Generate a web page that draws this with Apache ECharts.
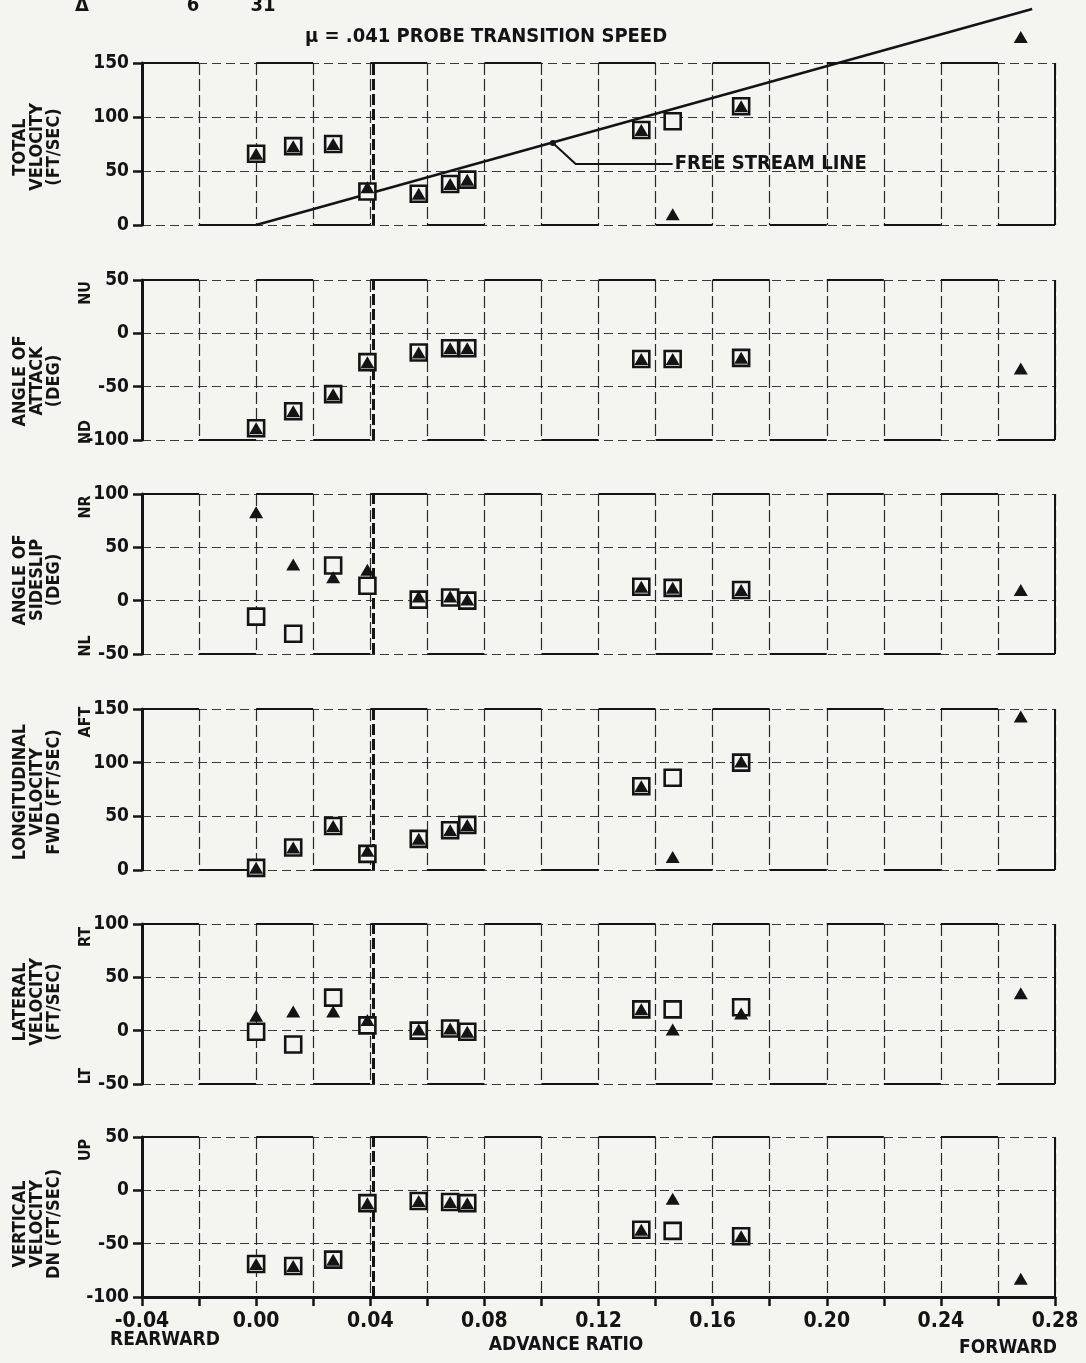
<!DOCTYPE html>
<html><head><meta charset="utf-8">
<script src="https://cdn.jsdelivr.net/npm/echarts@6/dist/echarts.min.js"></script>
<style>html,body{margin:0;padding:0;background:#f4f4f1}#c{width:1086px;height:1363px}</style>
</head><body><div id="c"></div>
<script>
// ---------- DATA ----------
const advanceRatio = [0.000, 0.013, 0.027, 0.039, 0.057, 0.068, 0.074, 0.135, 0.146, 0.170, 0.268];

const totalVelSquares  = [66, 73, 75, 31, 29, 38, 42, 88, 96, 110, null];
const totalVelTriangles= [66, 73, 75, 35, 29, 38, 42, 88, 10, 110, 174];

const aoaSquares   = [-89, -73, -57, -27, -18, -14, -14, -24, -24, -23, null];
const aoaTriangles = [-89, -73, -57, -27, -18, -14, -14, -24, -24, -23, -33];

const sideslipSquares   = [-15, -31, 33, 14, 1, 3, 0, 13, 12, 10, null];
const sideslipTriangles = [83, 34, 22, 29, 4, 4, 1, 13, 12, 10, 10];

const longVelSquares   = [2, 21, 41, 15, 29, 37, 42, 78, 86, 100, null];
const longVelTriangles = [2, 21, 41, 18, 29, 37, 42, 78, 12, 101, 143];

const latVelSquares   = [-1, -13, 31, 5, 0, 2, -1, 20, 20, 22, null];
const latVelTriangles = [14, 18, 18, 10, 1, 2, -1, 20, 1, 16, 35];

const vertVelSquares   = [-69, -71, -65, -12, -10, -11, -12, -37, -38, -43, null];
const vertVelTriangles = [-69, -71, -65, -12, -10, -11, -12, -37, -8, -43, -83];

const freeStreamLine = [[0, 0], [0.272, 200]];
const probeTransitionMu = 0.041;

const xTickLabels = ['-0.04', '0.00', '0.04', '0.08', '0.12', '0.16', '0.20', '0.24', '0.28'];
const yRanges = [[0, 150], [-100, 50], [-50, 100], [0, 150], [-50, 100], [-100, 50]];
const panelTitles = ['TOTAL\nVELOCITY\n(FT/SEC)', 'ANGLE OF\nATTACK\n(DEG)', 'ANGLE OF\nSIDESLIP\n(DEG)',
  'LONGITUDINAL\nVELOCITY\nFWD (FT/SEC)', 'LATERAL\nVELOCITY\n(FT/SEC)', 'VERTICAL\nVELOCITY\nDN (FT/SEC)'];
const signLabels = [[null, null], ['NU', 'ND'], ['NR', 'NL'], ['AFT', null], ['RT', 'LT'], ['UP', null]];

const squaresByPanel = [totalVelSquares, aoaSquares, sideslipSquares, longVelSquares, latVelSquares, vertVelSquares];
const trianglesByPanel = [totalVelTriangles, aoaTriangles, sideslipTriangles, longVelTriangles, latVelTriangles, vertVelTriangles];

// ---------- LAYOUT ----------
const FONT = "'DejaVu Sans Condensed','DejaVu Sans',sans-serif";
const INK = '#141414';
const PAPER = '#f4f4f1';
const gridTops = [63, 280, 494, 709, 924, 1137];
const gridHeights = [162, 160, 160, 161, 160, 160];
const titleCenters = [147, 381, 580, 792, 1002, 1224];
const GL = 142, GR = 31;

const pairs = (vals) => advanceRatio.map((x, i) => [x, vals[i]]).filter(p => p[1] !== null);
const centered = { align: 'center', verticalAlign: 'middle', textAlign: 'center', textVerticalAlign: 'middle' };

const grids = [], xAxes = [], yAxes = [], series = [], graphics = [];
for (let i = 0; i < 6; i++) {
  const [ymin, ymax] = yRanges[i];
  const last = i === 5;
  grids.push({ left: GL, right: GR, top: gridTops[i], height: gridHeights[i] });
  xAxes.push({
    gridIndex: i, type: 'value', min: -0.04, max: 0.28, interval: 0.02,
    axisLine: { show: last, onZero: false, lineStyle: { color: INK, width: 3 } },
    axisTick: { show: last, length: 9, lineStyle: { color: INK, width: 2.5 } },
    axisLabel: {
      show: last, margin: 14, color: INK, fontSize: 21, fontWeight: 'bold', fontFamily: FONT,
      formatter: v => {
        const k = Math.round((v + 0.04) / 0.04 * 1000) / 1000;
        return Number.isInteger(k) ? xTickLabels[k] : '';
      }
    },
    splitLine: { show: true, lineStyle: { color: '#2a2a2a', width: 1.2, type: [12, 4] } }
  });
  yAxes.push({
    gridIndex: i, type: 'value', min: ymin, max: ymax, interval: 50,
    axisLine: { show: true, onZero: false, lineStyle: { color: INK, width: 3 } },
    axisTick: { show: true, length: 9, lineStyle: { color: INK, width: 2.5 } },
    axisLabel: { margin: 13, color: INK, fontSize: 19, fontWeight: 'bold', fontFamily: FONT },
    splitLine: { show: true, lineStyle: { color: '#3a3a3a', width: 1.2, type: [9, 5] } }
  });

  // plotter-style frame segments (alternating top / bottom) built from the x ticks
  const frame = [];
  for (let k = 0; k < 16; k++) {
    const x0 = -0.04 + 0.02 * k, x1 = x0 + 0.02;
    const y = (k % 2 === 0) ? ymax : ymin;
    frame.push([{ coord: [x0, y], lineStyle: { type: 'solid', width: 2, color: INK } }, { coord: [x1, y] }]);
  }
  frame.push([{ coord: [0.28, ymin], lineStyle: { type: 'solid', width: 2, color: INK } }, { coord: [0.28, ymax] }]);
  frame.push([{ coord: [probeTransitionMu, ymin], lineStyle: { type: [11, 4], width: 3, color: INK } }, { coord: [probeTransitionMu, ymax] }]);

  series.push({
    type: 'scatter', name: 'squares', xAxisIndex: i, yAxisIndex: i, data: pairs(squaresByPanel[i]),
    symbol: 'rect', symbolSize: 16, clip: false, z: 3,
    itemStyle: { color: PAPER, borderColor: INK, borderWidth: 2.6, opacity: 1 },
    markLine: { silent: true, symbol: ['none', 'none'], label: { show: false }, animation: false, z: 1, data: frame }
  });
  series.push({
    type: 'scatter', name: 'triangles', xAxisIndex: i, yAxisIndex: i, data: pairs(trianglesByPanel[i]),
    symbol: 'triangle', symbolSize: [14, 12], clip: false, z: 4,
    itemStyle: { color: INK, opacity: 1 }
  });

  graphics.push({
    type: 'text', x: 37, y: titleCenters[i], rotation: Math.PI / 2, z: 10,
    style: Object.assign({ text: panelTitles[i], font: `bold 18px ${FONT}`, fill: INK, lineHeight: 17 }, centered)
  });
  const [top, bot] = signLabels[i];
  if (top) graphics.push({ type: 'text', x: 86, y: gridTops[i] + 13, rotation: Math.PI / 2, z: 10,
    style: Object.assign({ text: top, font: `bold 16px ${FONT}`, fill: INK }, centered) });
  if (bot) graphics.push({ type: 'text', x: 86, y: gridTops[i] + gridHeights[i] - 8, rotation: Math.PI / 2, z: 10,
    style: Object.assign({ text: bot, font: `bold 16px ${FONT}`, fill: INK }, centered) });
}

series.push({
  type: 'line', name: 'free stream', xAxisIndex: 0, yAxisIndex: 0, data: freeStreamLine,
  symbol: 'none', clip: false, z: 2, lineStyle: { color: INK, width: 2.5 }
});
series.push({
  type: 'line', name: 'leader', xAxisIndex: 0, yAxisIndex: 0,
  data: [[0.104, 76], [0.112, 56.5], { value: [0.146, 56.5],
    label: { show: true, position: 'right', distance: 2, formatter: 'FREE STREAM LINE',
      color: INK, fontSize: 20, fontWeight: 'bold', fontFamily: FONT } }],
  symbol: 'circle', symbolSize: (v, p) => p.dataIndex === 0 ? 6 : 0, clip: false, z: 2,
  itemStyle: { color: INK, opacity: 1 }, lineStyle: { color: INK, width: 2 }
});

graphics.push({ type: 'text', left: 305, top: 27, z: 10,
  style: { text: 'μ = .041 PROBE TRANSITION SPEED', font: `bold 20px ${FONT}`, fill: INK } });
graphics.push({ type: 'text', x: 82, y: 6, z: 10,
  style: Object.assign({ text: 'Δ', font: `bold 20px ${FONT}`, fill: INK }, centered) });
graphics.push({ type: 'text', x: 193, y: 6, z: 10,
  style: Object.assign({ text: '6', font: `bold 20px ${FONT}`, fill: INK }, centered) });
graphics.push({ type: 'text', x: 263, y: 6, z: 10,
  style: Object.assign({ text: '31', font: `bold 20px ${FONT}`, fill: INK }, centered) });
[['REARWARD', 165, 1340], ['ADVANCE RATIO', 566, 1345], ['FORWARD', 1008, 1348]].forEach(([t, x, y]) => {
  graphics.push({ type: 'text', x, y, z: 10,
    style: Object.assign({ text: t, font: `bold 19px ${FONT}`, fill: INK }, centered) });
});

const chart = echarts.init(document.getElementById('c'), null, { renderer: 'canvas' });
chart.setOption({
  backgroundColor: PAPER,
  animation: false,
  grid: grids, xAxis: xAxes, yAxis: yAxes, series, graphic: graphics
});
</script></body></html>
